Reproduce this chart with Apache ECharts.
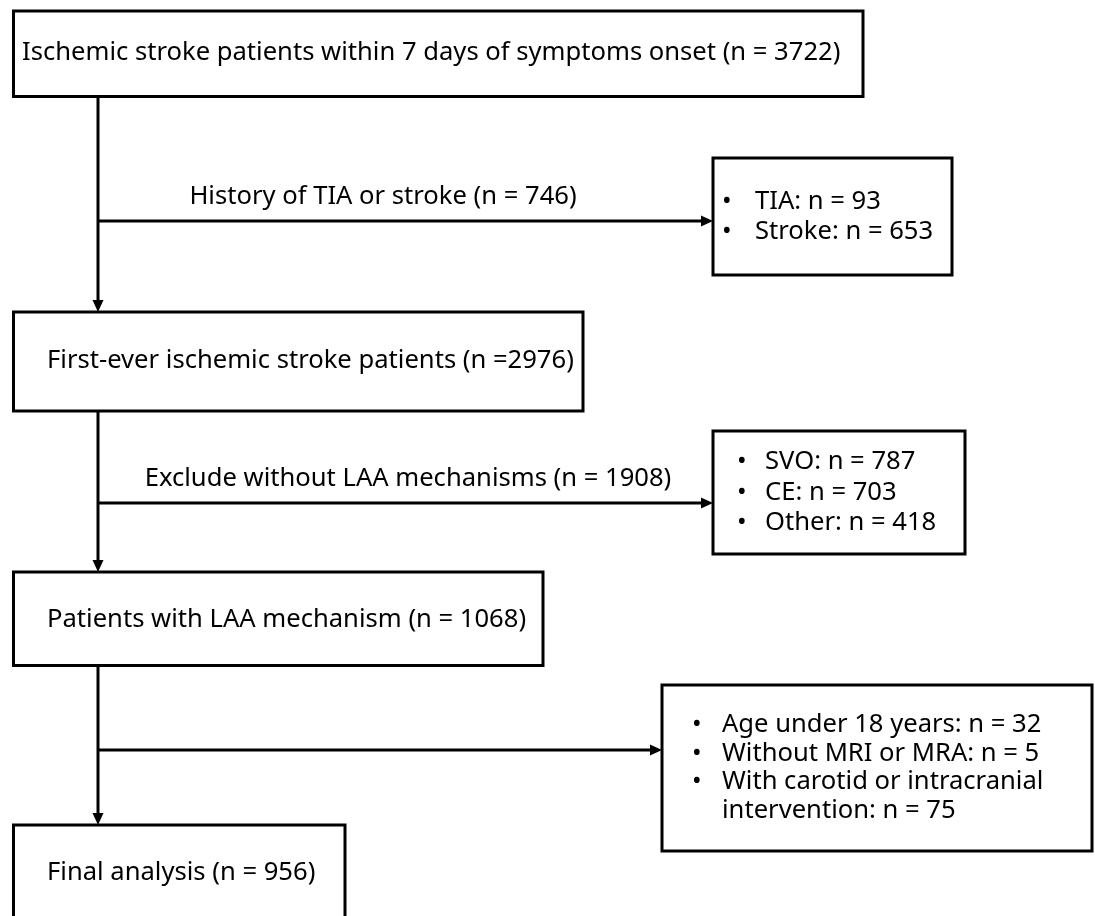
<!DOCTYPE html>
<html>
<head>
<meta charset="utf-8">
<script src="https://cdn.jsdelivr.net/npm/echarts@6/dist/echarts.min.js"></script>
<style>
html,body{margin:0;padding:0;background:#fff;}
#chart{width:1095px;height:916px;}
</style>
</head>
<body>
<div id="chart"></div>
<script>
// ---- content ----
const steps = [
  "Ischemic stroke patients within 7 days of symptoms onset (n = 3722)",
  "First-ever ischemic stroke patients (n =2976)",
  "Patients with LAA mechanism (n = 1068)",
  "Final analysis (n = 956)"
];
const exclusionLabels = [
  "History of TIA or stroke (n = 746)",
  "Exclude without LAA mechanisms (n = 1908)",
  ""
];
const exclusionDetails = [
  ["TIA: n = 93", "Stroke: n = 653"],
  ["SVO: n = 787", "CE: n = 703", "Other: n = 418"],
  ["Age under 18 years: n = 32", "Without MRI or MRA: n = 5", "With carotid or intracranial\nintervention: n = 75"]
];

// ---- layout (canvas units) ----
const W = 1095, H = 916;
const FONT = '"Noto Sans", "DejaVu Sans", sans-serif';
const FS = 25.6;
const spineX = 98;
const mainLayout = [
  {x0: 13.5, y0: 11, x1: 863, y1: 96.5, tx: 22, ty: 53},
  {x0: 13.5, y0: 312, x1: 583, y1: 411, tx: 47, ty: 361},
  {x0: 13.5, y0: 572, x1: 543, y1: 665.5, tx: 47, ty: 620},
  {x0: 13.5, y0: 825, x1: 345, y1: 940, tx: 47, ty: 873}
];
const sideLayout = [
  {x0: 713, y0: 158, x1: 952, y1: 275, bx: 722, tx: 755, ty: 202, lh: 30, lx: 383, ly: 197, by: 221},
  {x0: 713, y0: 431, x1: 965, y1: 554, bx: 737, tx: 765, ty: 462, lh: 30.5, lx: 408, ly: 479, by: 503},
  {x0: 662, y0: 685, x1: 1092, y1: 851, bx: 692, tx: 722, ty: 725, lh: 28.5, lx: 380, ly: 725, by: 750}
];

function textEl(api, x, y, str, align) {
  const p = api.coord([x, y]);
  return {
    type: 'text', x: p[0], y: p[1],
    style: {text: str, fill: '#000', fontSize: FS, fontFamily: FONT,
            align: align || 'left', verticalAlign: 'middle'}
  };
}
function rectEl(api, L) {
  const a = api.coord([L.x0, L.y0]), b = api.coord([L.x1, L.y1]);
  return {type: 'rect', shape: {x: a[0], y: a[1], width: b[0] - a[0], height: b[1] - a[1]},
          style: {fill: '#fff', stroke: '#000', lineWidth: 3}};
}
function arrowEls(api, x0, y0, x1, y1) {
  const a = api.coord([x0, y0]), b = api.coord([x1, y1]);
  const dx = b[0] - a[0], dy = b[1] - a[1];
  const len = Math.sqrt(dx * dx + dy * dy), ux = dx / len, uy = dy / len;
  const hl = 12, hw = 5.5;
  const base = [b[0] - ux * hl, b[1] - uy * hl];
  return [
    {type: 'line', shape: {x1: a[0], y1: a[1], x2: base[0], y2: base[1]},
     style: {stroke: '#000', lineWidth: 3}},
    {type: 'polygon', shape: {points: [b, [base[0] - uy * hw, base[1] + ux * hw], [base[0] + uy * hw, base[1] - ux * hw]]},
     style: {fill: '#000'}}
  ];
}

const option = {
  animation: false,
  backgroundColor: '#fff',
  grid: {left: 0, right: 0, top: 0, bottom: 0},
  xAxis: {type: 'value', min: 0, max: W, show: false},
  yAxis: {type: 'value', min: 0, max: H, inverse: true, show: false},
  series: [
    {
      type: 'custom', name: 'connectors', clip: false,
      data: exclusionLabels.map((s, i) => [i]),
      renderItem: function (params, api) {
        const i = params.dataIndex;
        const top = mainLayout[i], next = mainLayout[i + 1], S = sideLayout[i];
        const children = [];
        arrowEls(api, spineX, top.y1, spineX, next.y0).forEach(e => children.push(e));
        arrowEls(api, spineX, S.by, S.x0, S.by).forEach(e => children.push(e));
        if (exclusionLabels[i]) children.push(textEl(api, S.lx, S.ly, exclusionLabels[i], 'center'));
        return {type: 'group', children: children};
      }
    },
    {
      type: 'custom', name: 'steps', clip: false,
      data: steps.map((s, i) => [i]),
      renderItem: function (params, api) {
        const i = params.dataIndex, L = mainLayout[i];
        return {type: 'group', children: [rectEl(api, L), textEl(api, L.tx, L.ty, steps[i])]};
      }
    },
    {
      type: 'custom', name: 'exclusions', clip: false,
      data: exclusionDetails.map((s, i) => [i]),
      renderItem: function (params, api) {
        const i = params.dataIndex, S = sideLayout[i];
        const children = [rectEl(api, S)];
        let line = 0;
        exclusionDetails[i].forEach(item => {
          const parts = item.split('\n');
          children.push(textEl(api, S.bx, S.ty + line * S.lh, '\u2022'));
          parts.forEach(p => {
            children.push(textEl(api, S.tx, S.ty + line * S.lh, p));
            line++;
          });
        });
        return {type: 'group', children: children};
      }
    }
  ]
};
const chart = echarts.init(document.getElementById('chart'), null, {renderer: 'canvas'});
chart.setOption(option);
</script>
</body>
</html>
